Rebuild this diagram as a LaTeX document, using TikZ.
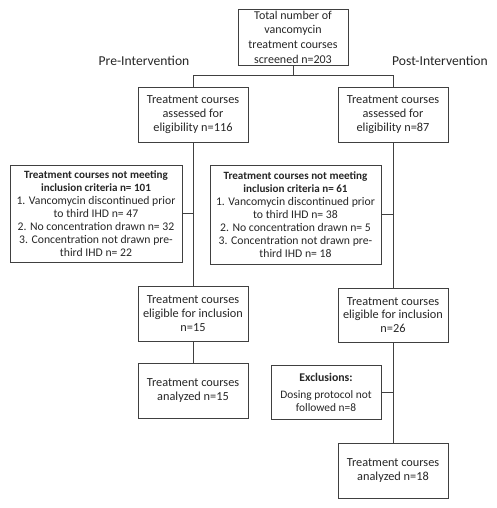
\documentclass[tikz,border=0pt]{standalone}
\usepackage{fontspec}
\setmainfont{Carlito}
\newcommand\hdtxt[1]{{\bfseries\fontsize{11.1}{12.9}\selectfont #1}}
\begin{document}
\begin{tikzpicture}[x=1pt,y=-1pt,
  box/.style={draw=black!75,line width=0.8pt,align=center,inner sep=1pt,font=\fontsize{12.3}{13.8}\selectfont,text=black!85},
  lbl/.style={font=\fontsize{13.6}{15}\selectfont,text=black!85},
  con/.style={draw=black!75,line width=0.8pt}]
\useasboundingbox (0,0) rectangle (497,508);
\node[box,minimum width=110pt,minimum height=56pt,font=\fontsize{12}{14.6}\selectfont] (top) at (293,37) {Total number of\\vancomycin\\treatment courses\\screened n=203};
\node[lbl] (pre) at (144,61) {Pre-Intervention};
\node[lbl] (post) at (440,61) {Post-Intervention};
\node[box,minimum width=110pt,minimum height=55pt] (lA) at (193,114.5) {Treatment courses\\assessed for\\eligibility n=116};
\node[box,minimum width=110pt,minimum height=55pt] (rA) at (393,114.5) {Treatment courses\\assessed for\\eligibility n=87};
\node[box,minimum width=172pt,minimum height=97pt,font=\fontsize{11.7}{12.9}\selectfont] (lX) at (96,213.5) {\hdtxt{Treatment courses not meeting}\\\hdtxt{inclusion criteria n= 101}\\1. Vancomycin discontinued prior\\to third IHD n= 47\\2. No concentration drawn n= 32\\3. Concentration not drawn pre-\\third IHD n= 22};
\node[box,minimum width=171pt,minimum height=99pt,font=\fontsize{11.7}{12.9}\selectfont] (rX) at (295.5,214.5) {\hdtxt{Treatment courses not meeting}\\\hdtxt{inclusion criteria n= 61}\\1. Vancomycin discontinued prior\\to third IHD n= 38\\2. No concentration drawn n= 5\\3. Concentration not drawn pre-\\third IHD n= 18};
\node[box,minimum width=110pt,minimum height=55pt] (lE) at (193,313.5) {Treatment courses\\eligible for inclusion\\n=15};
\node[box,minimum width=110pt,minimum height=54pt] (rE) at (393,315) {Treatment courses\\eligible for inclusion\\n=26};
\node[box,minimum width=110pt,minimum height=55pt] (lN) at (193,390.5) {Treatment courses\\analyzed n=15};
\node[box,minimum width=110pt,minimum height=54pt,font=\fontsize{11.4}{12.6}\selectfont] (rZ) at (326,392) {{\bfseries\fontsize{11.8}{13}\selectfont Exclusions:}\\[5pt]Dosing protocol not\\followed n=8};
\node[box,minimum width=110pt,minimum height=55pt] (rN) at (393,470.5) {Treatment courses\\analyzed n=18};
\coordinate (j) at (293,75);
\draw[con] (top.south) -- (j);
\draw[con] (j) -| (lA.north);
\draw[con] (j) -| (rA.north);
\draw[con] (lA.south) -- (lE.north);
\draw[con] (rA.south) -- (rE.north);
\draw[con] (lX.east) -- (lX.east -| lA.south);
\draw[con] (rX.east) -- (rX.east -| rA.south);
\draw[con] (lE.south) -- (lN.north);
\draw[con] (rE.south) -- (rN.north);
\draw[con] (rZ.east) -- (rZ.east -| rE.south);
\end{tikzpicture}
\end{document}
